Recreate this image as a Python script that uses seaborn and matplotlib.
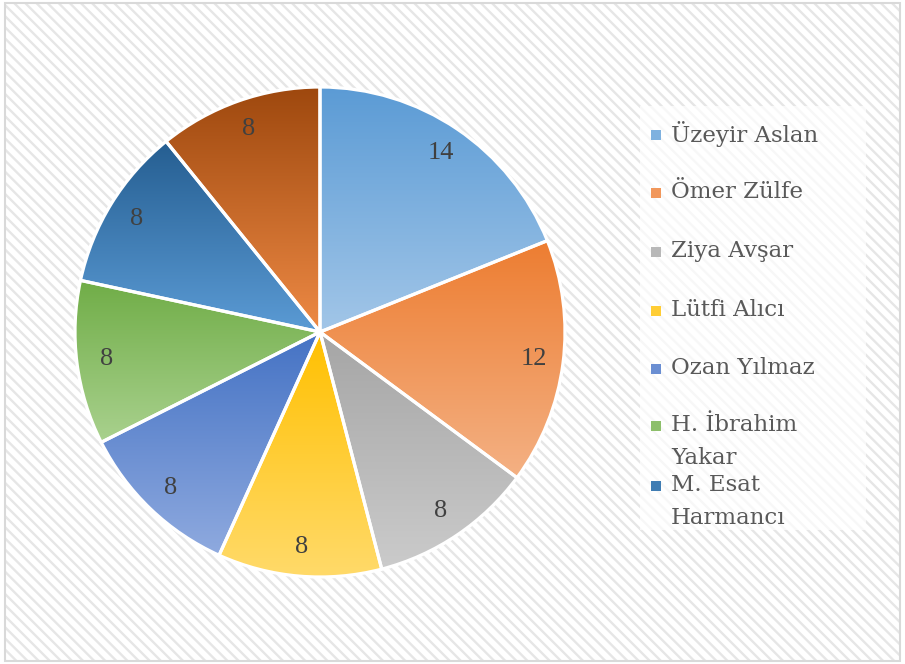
# Pasta grafiği - öğrenci puanları
import numpy as np
import matplotlib.pyplot as plt
from matplotlib.patches import Rectangle
import seaborn as sns

# DADOS
names = ["Üzeyir Aslan", "Ömer Zülfe", "Ziya Avşar", "Lütfi Alıcı", "Ozan Yılmaz",
         "H. İbrahim\nYakar", "M. Esat\nHarmancı", ""]
values = [14, 12, 8, 8, 8, 8, 8, 8]

# cores: topo e base do degradê de cada fatia
top_colors = sns.color_palette(["#5B9BD5", "#ED7D31", "#A5A5A5", "#FFC000",
                                "#4472C4", "#70AD47", "#255E91", "#9E480E"])
bottom_colors = sns.color_palette(["#A2C6E8", "#F4B184", "#CBCBCB", "#FFDA6A",
                                   "#8FAADF", "#A9D18E", "#5B9BD5", "#EE8A45"])

sns.set_theme(style="white")
plt.rcParams['font.family'] = ['Liberation Serif', 'DejaVu Serif']
plt.rcParams['hatch.linewidth'] = 1.7

W, H = 905, 664
fig = plt.figure(figsize=(W / 100, H / 100), dpi=100)
fig.patch.set_facecolor('white')

# fundo listrado + borda
fig.add_artist(Rectangle((0.005, 0.005), 0.99, 0.99, transform=fig.transFigure,
                         facecolor='white', edgecolor='#e6e6e6', lw=0,
                         hatch='\\\\\\', zorder=-2))
fig.add_artist(Rectangle((0.005, 0.004), 0.99, 0.992, transform=fig.transFigure,
                         facecolor='none', edgecolor='#d9d9d9', lw=1.5, zorder=-1))
# fundo da legenda
fig.add_artist(Rectangle((640 / W, 1 - 530 / H), 226 / W, 424 / H,
                         transform=fig.transFigure, facecolor='white',
                         edgecolor='none', alpha=0.7, zorder=-1))

# pizza
cx, cy, r = 320, 332, 245
ax = fig.add_axes([(cx - r) / W, 1 - (cy + r) / H, 2 * r / W, 2 * r / H])
total = sum(values)
wedges, _, autotexts = ax.pie(values, colors=top_colors, startangle=90, counterclock=False,
                              autopct=lambda p: f"{p * total / 100:.0f}", pctdistance=0.88,
                              labels=None,
                              wedgeprops=dict(edgecolor='white', linewidth=2.3),
                              textprops=dict(color='#404040', fontsize=19))

grad = np.linspace(0, 1, 256)[:, None, None]
for w, c0, c1 in zip(wedges, top_colors, bottom_colors):
    ext = w.get_path().get_extents()
    img = np.array(c0)[None, None, :] * (1 - grad) + np.array(c1)[None, None, :] * grad
    im = ax.imshow(img, extent=(ext.x0, ext.x1, ext.y0, ext.y1), origin='upper',
                   aspect='auto', interpolation='bilinear', zorder=1)
    im.set_clip_path(w)
    w.set_facecolor('none')
    w.set_zorder(2)
for t in autotexts:
    t.set_zorder(3)

ax.set_xlim(-1, 1)
ax.set_ylim(-1, 1)
ax.set_aspect('equal')
ax.axis('off')

# legenda
leg_y = [134, 192, 251, 310, 368, 425, 485]
for i, y in enumerate(leg_y):
    c = [(a + b) / 2 for a, b in zip(top_colors[i], bottom_colors[i])]
    fig.add_artist(Rectangle((651 / W, 1 - (y + 6) / H), 10 / W, 10 / H,
                             transform=fig.transFigure, facecolor=c, edgecolor='none'))
    for j, line in enumerate(names[i].split("\n")):
        fig.text(671 / W, 1 - (y + j * 33) / H, line, fontsize=16.5, color='#595959',
                 family='DejaVu Serif', ha='left', va='center')

fig.savefig("out.png", dpi=100)
